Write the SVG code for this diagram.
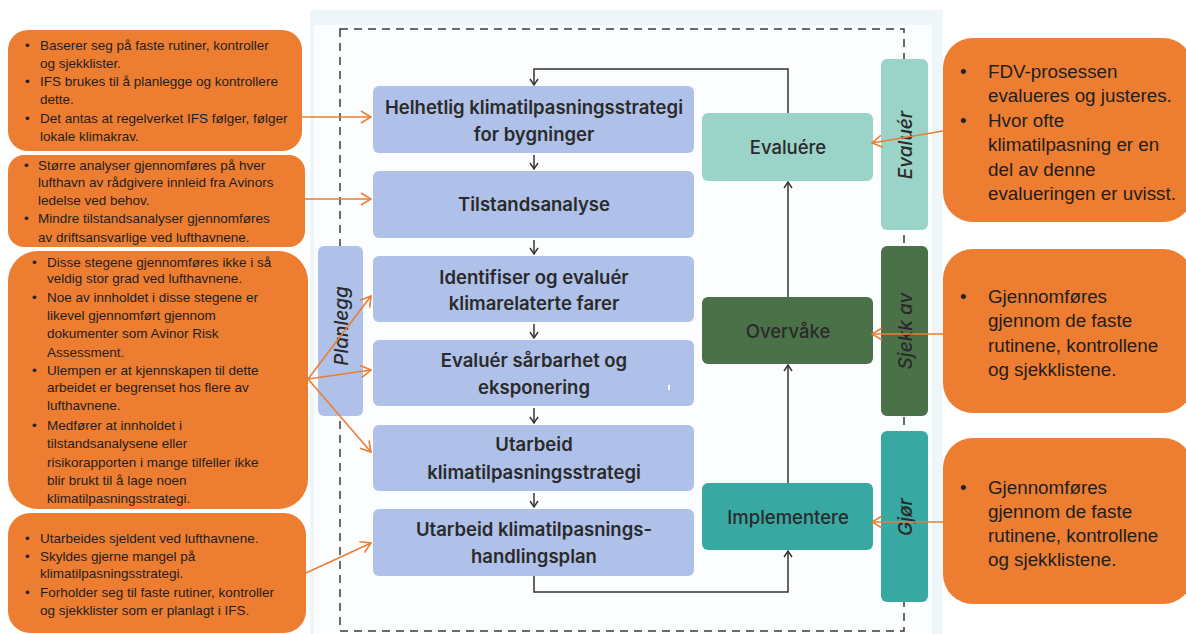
<svg xmlns="http://www.w3.org/2000/svg" width="1186" height="634" viewBox="0 0 1186 634">
<style>
.ob{fill:#ed7d31}
.ot{font-family:"Liberation Sans",Arial,sans-serif;font-size:13.5px;fill:#1e1e1e}
.rt{font-family:"Liberation Sans",Arial,sans-serif;font-size:18.8px;fill:#1e1e1e}
.bb{fill:#afc1e8}
.bt{font-family:Inter,"Liberation Sans",sans-serif;font-size:18.5px;font-weight:600;fill:#2a2a2a;text-anchor:middle}
.st{font-family:Inter,"Liberation Sans",sans-serif;font-size:18.5px;font-weight:500;fill:#2a2a2a;text-anchor:middle}
.vt{font-family:Inter,"Liberation Sans",sans-serif;font-size:19px;font-style:italic;font-weight:500;fill:#2a2a2a;text-anchor:middle}
.k{stroke:#333;stroke-width:1.5;fill:none}
.o{stroke:#ed7d31;stroke-width:1.6;fill:none}
</style>
<defs>
<marker id="ah" viewBox="0 0 8 10" refX="7" refY="5" markerWidth="8" markerHeight="10" markerUnits="userSpaceOnUse" orient="auto"><path d="M1,1 L7,5 L1,9" fill="none" stroke="#333" stroke-width="1.4"/></marker>
<marker id="oh" viewBox="0 0 12 14" refX="11" refY="7" markerWidth="12" markerHeight="14" markerUnits="userSpaceOnUse" orient="auto"><path d="M1,1 L11,7 L1,13" fill="none" stroke="#ed7d31" stroke-width="1.6"/></marker>
</defs>
<rect width="1186" height="634" fill="#ffffff"/>
<rect x="310" y="10" width="633" height="624" fill="#eef6f9"/>
<rect x="314" y="25" width="618" height="609" fill="#fbfdfe"/>
<rect x="340" y="29" width="564" height="602" fill="none" stroke="#3a3a3a" stroke-width="1.5" stroke-dasharray="8,6"/>
<g id="connectors">
<path class="k" d="M788,113 L788,69 L534,69 L534,85" marker-end="url(#ah)"/>
<path class="k" d="M534,155 L534,169" marker-end="url(#ah)"/>
<path class="k" d="M534,240 L534,254" marker-end="url(#ah)"/>
<path class="k" d="M534,324 L534,338" marker-end="url(#ah)"/>
<path class="k" d="M534,408 L534,423" marker-end="url(#ah)"/>
<path class="k" d="M534,493 L534,507" marker-end="url(#ah)"/>
<path class="k" d="M534,576 L534,592 L788,592 L788,551" marker-end="url(#ah)"/>
<path class="k" d="M788,483 L788,365" marker-end="url(#ah)"/>
<path class="k" d="M788,297 L788,182" marker-end="url(#ah)"/>
</g>
<g id="bar-planlegg"><rect x="318" y="246" width="45" height="170" rx="6" fill="#afc1e8"/><text class="vt" transform="translate(341,326) rotate(-90)" y="7">Planlegg</text></g>
<g id="bar-evaluer"><rect x="881" y="59" width="47" height="171" rx="6" fill="#9ad3c8"/><text class="vt" transform="translate(905,145) rotate(-90)" y="7">Evaluér</text></g>
<g id="bar-sjekk"><rect x="881" y="246" width="47" height="170" rx="6" fill="#4b7149"/><text class="vt" transform="translate(905,331) rotate(-90)" y="7">Sjekk av</text></g>
<g id="bar-gjor"><rect x="881" y="431" width="47" height="171" rx="6" fill="#38a8a2"/><text class="vt" transform="translate(905,517) rotate(-90)" y="7">Gjør</text></g>
<g id="n1"><rect class="bb" x="373" y="86" width="321" height="67" rx="6"/><text class="bt" x="534" y="114">Helhetlig klimatilpasningsstrategi</text><text class="bt" x="534" y="141">for bygninger</text></g>
<g id="n2"><rect class="bb" x="373" y="171" width="321" height="67" rx="6"/><text class="bt" x="534" y="211">Tilstandsanalyse</text></g>
<g id="n3"><rect class="bb" x="373" y="256" width="321" height="66" rx="6"/><text class="bt" x="534" y="284">Identifiser og evaluér</text><text class="bt" x="534" y="310">klimarelaterte farer</text></g>
<g id="n4"><rect class="bb" x="373" y="340" width="321" height="66" rx="6"/><text class="bt" x="534" y="367">Evaluér sårbarhet og</text><text class="bt" x="534" y="394">eksponering</text><rect x="668" y="385" width="2" height="5" fill="#ffffff"/></g>
<g id="n5"><rect class="bb" x="373" y="425" width="321" height="66" rx="6"/><text class="bt" x="534" y="451">Utarbeid</text><text class="bt" x="534" y="479">klimatilpasningsstrategi</text></g>
<g id="n6"><rect class="bb" x="373" y="509" width="321" height="67" rx="6"/><text class="bt" x="534" y="536">Utarbeid klimatilpasnings-</text><text class="bt" x="534" y="563">handlingsplan</text></g>
<g id="evaluere"><rect x="702" y="113" width="171" height="68" rx="6" fill="#9ad3c8"/><text class="st" x="788" y="154">Evaluére</text></g>
<g id="overvake"><rect x="702" y="297" width="171" height="67" rx="6" fill="#4b7149"/><text class="st" x="788" y="338">Overvåke</text></g>
<g id="implementere"><rect x="702" y="483" width="171" height="67" rx="6" fill="#38a8a2"/><text class="st" x="788" y="524">Implementere</text></g>
<g id="noteA"><rect class="ob" x="8" y="30" width="294" height="121" rx="20"/>
<text class="ot" x="25" y="50">•</text><text class="ot" x="40" y="50">Baserer seg på faste rutiner, kontroller</text><text class="ot" x="40" y="68">og sjekklister.</text>
<text class="ot" x="25" y="86">•</text><text class="ot" x="40" y="86">IFS brukes til å planlegge og kontrollere</text><text class="ot" x="40" y="104">dette.</text>
<text class="ot" x="25" y="123">•</text><text class="ot" x="40" y="123">Det antas at regelverket IFS følger, følger</text><text class="ot" x="40" y="141">lokale klimakrav.</text></g>
<g id="noteB"><rect class="ob" x="8" y="155" width="297" height="92" rx="16"/>
<text class="ot" x="24" y="170">•</text><text class="ot" x="38" y="170">Større analyser gjennomføres på hver</text><text class="ot" x="38" y="187">lufthavn av rådgivere innleid fra Avinors</text><text class="ot" x="38" y="205">ledelse ved behov.</text>
<text class="ot" x="24" y="223">•</text><text class="ot" x="38" y="223">Mindre tilstandsanalyser gjennomføres</text><text class="ot" x="38" y="242">av driftsansvarlige ved lufthavnene.</text></g>
<g id="noteC"><rect class="ob" x="8" y="251" width="300" height="258" rx="30"/>
<text class="ot" x="32" y="267">•</text><text class="ot" x="47" y="267">Disse stegene gjennomføres ikke i så</text><text class="ot" x="47" y="283">veldig stor grad ved lufthavnene.</text>
<text class="ot" x="32" y="302">•</text><text class="ot" x="47" y="302">Noe av innholdet i disse stegene er</text><text class="ot" x="47" y="320">likevel gjennomført gjennom</text><text class="ot" x="47" y="338">dokumenter som Avinor Risk</text><text class="ot" x="47" y="357">Assessment.</text>
<text class="ot" x="32" y="375">•</text><text class="ot" x="47" y="375">Ulempen er at kjennskapen til dette</text><text class="ot" x="47" y="392">arbeidet er begrenset hos flere av</text><text class="ot" x="47" y="410">lufthavnene.</text>
<text class="ot" x="32" y="430">•</text><text class="ot" x="47" y="430">Medfører at innholdet i</text><text class="ot" x="47" y="448">tilstandsanalysene eller</text><text class="ot" x="47" y="467">risikorapporten i mange tilfeller ikke</text><text class="ot" x="47" y="485">blir brukt til å lage noen</text><text class="ot" x="47" y="503">klimatilpasningsstrategi.</text></g>
<g id="noteD"><rect class="ob" x="8" y="513" width="298" height="120" rx="22"/>
<text class="ot" x="25" y="543">•</text><text class="ot" x="40" y="543">Utarbeides sjeldent ved lufthavnene.</text>
<text class="ot" x="25" y="561">•</text><text class="ot" x="40" y="561">Skyldes gjerne mangel på</text><text class="ot" x="40" y="578">klimatilpasningsstrategi.</text>
<text class="ot" x="25" y="597">•</text><text class="ot" x="40" y="597">Forholder seg til faste rutiner, kontroller</text><text class="ot" x="40" y="615">og sjekklister som er planlagt i IFS.</text></g>
<g id="noteE"><rect class="ob" x="943" y="38" width="250" height="184" rx="30"/>
<text class="rt" x="960" y="78">•</text><text class="rt" x="988" y="78">FDV-prosessen</text><text class="rt" x="988" y="102">evalueres og justeres.</text>
<text class="rt" x="960" y="127">•</text><text class="rt" x="988" y="127">Hvor ofte</text><text class="rt" x="988" y="151">klimatilpasning er en</text><text class="rt" x="988" y="176">del av denne</text><text class="rt" x="988" y="200">evalueringen er uvisst.</text></g>
<g id="noteF"><rect class="ob" x="943" y="249" width="250" height="164" rx="30"/>
<text class="rt" x="960" y="303">•</text><text class="rt" x="988" y="303">Gjennomføres</text><text class="rt" x="988" y="327">gjennom de faste</text><text class="rt" x="988" y="352">rutinene, kontrollene</text><text class="rt" x="988" y="376">og sjekklistene.</text></g>
<g id="noteG"><rect class="ob" x="943" y="438" width="250" height="166" rx="30"/>
<text class="rt" x="960" y="494">•</text><text class="rt" x="988" y="494">Gjennomføres</text><text class="rt" x="988" y="518">gjennom de faste</text><text class="rt" x="988" y="542">rutinene, kontrollene</text><text class="rt" x="988" y="566">og sjekklistene.</text></g>
<g id="note-connectors">
<path class="o" d="M302,117 L371,117" marker-end="url(#oh)"/>
<path class="o" d="M305,199 L371,199" marker-end="url(#oh)"/>
<path class="o" d="M308,379 L371,296" marker-end="url(#oh)"/>
<path class="o" d="M308,379 L371,370" marker-end="url(#oh)"/>
<path class="o" d="M308,379 L371,452" marker-end="url(#oh)"/>
<path class="o" d="M306,573 L371,543" marker-end="url(#oh)"/>
<path class="o" d="M943,131 L872,143" marker-end="url(#oh)"/>
<path class="o" d="M943,334 L872,334" marker-end="url(#oh)"/>
<path class="o" d="M943,522 L872,522" marker-end="url(#oh)"/>
</g>
</svg>
